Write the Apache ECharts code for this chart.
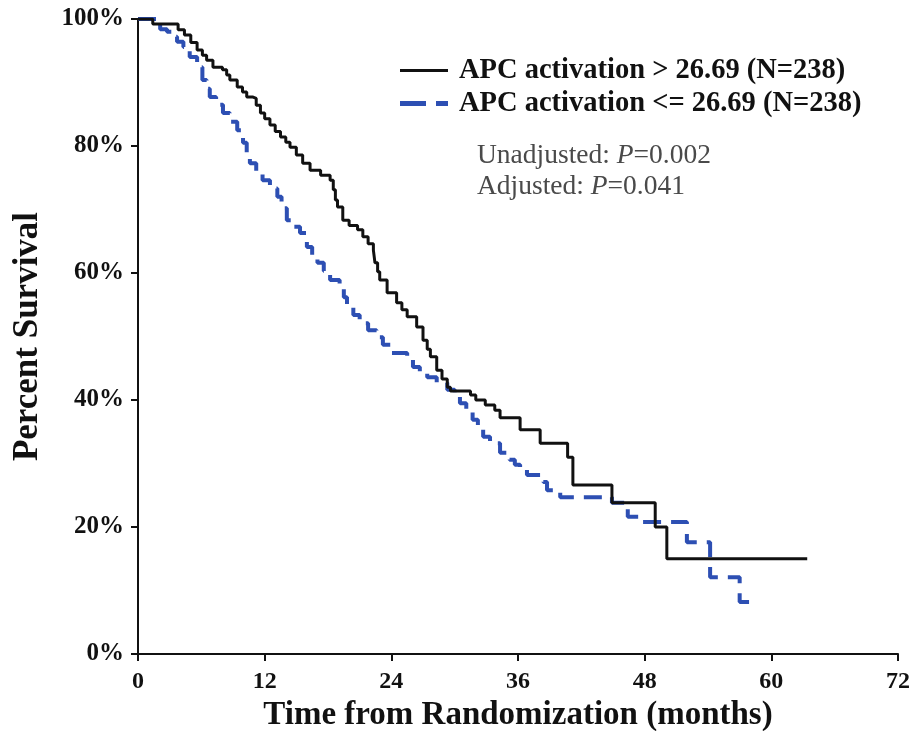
<!DOCTYPE html>
<html>
<head>
<meta charset="utf-8">
<script src="https://cdn.jsdelivr.net/npm/echarts@6/dist/echarts.min.js"></script>
<style>html,body{margin:0;padding:0;background:#fff}#c{width:909px;height:731px}</style>
</head>
<body>
<div id="c"></div>
<script>
var xTicks = [0, 12, 24, 36, 48, 60, 72];
var yTicks = [0, 20, 40, 60, 80, 100];
var seriesNames = ['APC activation > 26.69 (N=238)', 'APC activation <= 26.69 (N=238)'];
var pTexts = ['Unadjusted: ', '=0.002', 'Adjusted: ', '=0.041'];

// Kaplan-Meier steps: [months, percent surviving after the drop at that time]
var highAPC = [
  [0,100],[1.4,99.2],[3.8,98.3],[4.4,97.5],[5.0,96.3],[5.6,95.1],[6.1,94.3],[6.5,93.5],[7.1,92.4],
  [8.0,92.0],[8.4,91.2],[8.7,90.4],[9.4,89.3],[9.9,88.5],[10.3,87.7],[10.9,87.5],[11.2,86.4],[11.6,85.2],
  [12.0,84.3],[12.5,83.3],[13.0,82.3],[13.5,81.4],[14.0,80.6],[14.4,79.8],[15.0,78.6],[15.6,77.3],
  [16.3,76.2],[17.3,75.4],[18.2,74.6],[18.5,73.1],[18.7,71.5],[18.9,70.4],[19.4,68.3],[20.0,67.5],
  [20.8,66.8],[21.3,65.7],[21.8,64.6],[22.3,63.6],[22.45,61.6],[22.7,60.2],[22.9,58.9],[23.6,56.9],
  [24.5,55.3],[25.0,54.2],[25.5,53.1],[26.4,51.5],[27.0,49.4],[27.4,48.0],[27.7,46.8],[28.3,44.7],
  [28.8,43.3],[29.3,42.0],[29.6,41.4],[31.5,40.8],[32.0,40.0],[32.9,39.2],[33.8,38.4],[34.3,37.2],
  [36.2,35.3],[38.1,33.2],[40.7,31.0],[41.2,26.6],[44.9,23.8],[49.0,20.0],[50.1,15.0],[63.4,15.0]
];
var lowAPC = [
  [0,100],[2.1,98.4],[2.75,98.0],[3.2,97.2],[3.7,96.4],[4.3,95.6],[4.9,94.0],[5.6,92.4],[6.1,90.4],
  [6.5,89.0],[6.8,87.7],[7.4,86.5],[8.05,85.2],[8.7,83.8],[9.4,82.5],[9.95,80.5],[10.3,79.0],[10.6,77.3],
  [11.2,76.0],[11.8,74.6],[12.5,73.3],[13.2,72.0],[13.6,70.2],[14.1,68.3],[14.7,67.3],[15.35,66.3],
  [16.0,64.1],[16.5,62.8],[17.0,61.6],[17.6,60.3],[18.2,58.9],[19.1,57.8],[19.5,56.2],[19.8,54.6],
  [20.4,53.4],[21.0,52.1],[21.8,51.0],[22.6,49.9],[23.2,48.7],[23.9,47.4],[25.5,46.9],[26.05,45.2],
  [26.7,44.4],[27.4,43.6],[28.3,42.7],[29.3,41.6],[30.0,40.5],[30.5,39.5],[31.1,38.2],[31.7,36.9],
  [32.2,35.5],[32.7,34.2],[33.35,33.2],[34.3,31.7],[35.2,30.6],[35.7,29.8],[36.2,29.0],[36.85,28.2],
  [38.4,27.1],[38.75,25.8],[40.0,24.7],[44.9,23.8],[46.4,21.6],[47.4,20.8],[52.0,17.6],[54.2,12.1],
  [57.0,8.2],[58.2,8.2]
];

var FONT = '"Liberation Serif", "Times New Roman", serif';
var BLUE = '#2d4fb3';
var chart = echarts.init(document.getElementById('c'), null, {renderer: 'canvas'});
chart.setOption({
  animation: false,
  backgroundColor: '#ffffff',
  grid: {left: 138, right: 11, top: 19, bottom: 77, containLabel: false, outerBoundsMode: 'none'},
  xAxis: {
    type: 'value', min: xTicks[0], max: xTicks[xTicks.length - 1], interval: 12,
    name: 'Time from Randomization (months)', nameLocation: 'middle', nameGap: 37,
    nameTextStyle: {fontFamily: FONT, fontWeight: 'bold', fontSize: 33, color: '#111'},
    axisLine: {lineStyle: {color: '#111', width: 2}},
    axisTick: {length: 7, lineStyle: {color: '#111', width: 2}},
    axisLabel: {fontFamily: FONT, fontWeight: 'bold', fontSize: 24, color: '#111', margin: 16,
      customValues: xTicks},
    splitLine: {show: false}
  },
  yAxis: {
    type: 'value', min: yTicks[0], max: yTicks[yTicks.length - 1], interval: 20,
    name: 'Percent Survival', nameLocation: 'middle', nameGap: 93, nameRotate: 90,
    nameTextStyle: {fontFamily: FONT, fontWeight: 'bold', fontSize: 35, color: '#111'},
    axisLine: {show: true, lineStyle: {color: '#111', width: 2}},
    axisTick: {show: true, length: 7, lineStyle: {color: '#111', width: 2}},
    axisLabel: {fontFamily: FONT, fontWeight: 'bold', fontSize: 25, color: '#111', margin: 14,
      formatter: '{value}%'},
    splitLine: {show: false}
  },
  legend: {
    orient: 'vertical', left: 395, top: 51, itemWidth: 48, itemHeight: 14, itemGap: 4,
    textStyle: {fontFamily: FONT, fontWeight: 'bold', fontSize: 28.5, color: '#111', padding: [0, 0, 0, 6]},
    data: [
      {name: seriesNames[0], icon: 'path://M0,6 L48,6 L48,9 L0,9 Z', itemStyle: {color: '#111'}},
      {name: seriesNames[1], icon: 'path://M0,5 L26,5 L26,10 L0,10 Z M36,5 L48,5 L48,10 L36,10 Z', itemStyle: {color: BLUE}}
    ]
  },
  graphic: [{
    type: 'text', left: 477, top: 142,
    style: {
      text: '{n|' + pTexts[0] + '}{i|P}{n|' + pTexts[1] + '}\n{n|' + pTexts[2] + '}{i|P}{n|' + pTexts[3] + '}',
      rich: {
        n: {fontFamily: FONT, fontSize: 27.5, fill: '#4a4a4a', lineHeight: 31},
        i: {fontFamily: FONT, fontSize: 27.5, fontStyle: 'italic', fill: '#4a4a4a', lineHeight: 31}
      }
    }
  }],
  series: [
    {name: seriesNames[1], type: 'line', step: 'end', symbol: 'none', data: lowAPC, z: 2,
      itemStyle: {color: BLUE},
      lineStyle: {color: BLUE, width: 4, type: [18, 10]}},
    {name: seriesNames[0], type: 'line', step: 'end', symbol: 'none', data: highAPC, z: 3,
      itemStyle: {color: '#111'},
      lineStyle: {color: '#111', width: 3}}
  ]
});
</script>
</body>
</html>
